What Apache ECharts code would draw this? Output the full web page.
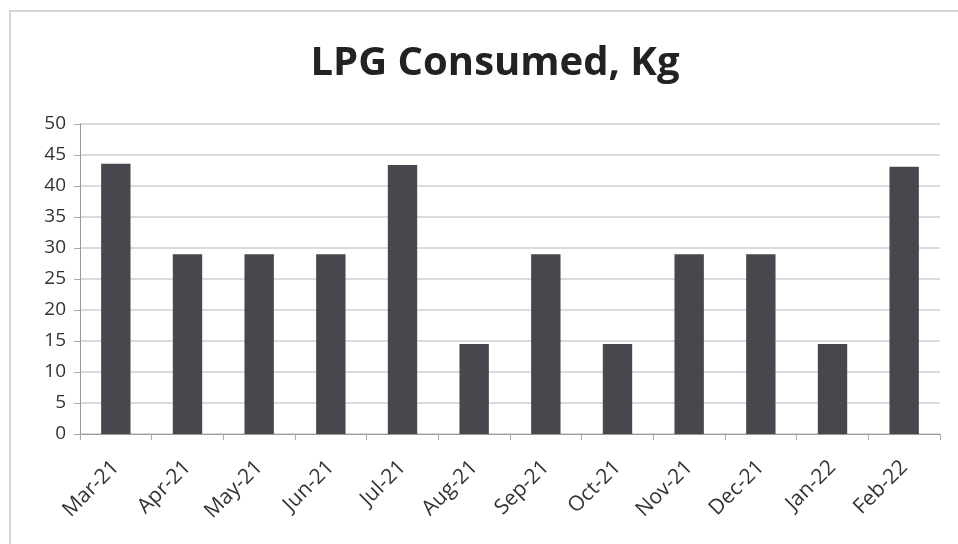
<!DOCTYPE html>
<html>
<head>
<meta charset="utf-8">
<script src="https://cdn.jsdelivr.net/npm/echarts@6/dist/echarts.min.js"></script>
<style>
  html, body { margin: 0; padding: 0; background: #fff; }
  #chart { width: 958px; height: 544px; }
</style>
</head>
<body>
<div id="chart"></div>
<script>
const months = ['Mar-21', 'Apr-21', 'May-21', 'Jun-21', 'Jul-21', 'Aug-21',
  'Sep-21', 'Oct-21', 'Nov-21', 'Dec-21', 'Jan-22', 'Feb-22'];
const lpgKg = [43.6, 29, 29, 29, 43.4, 14.5, 29, 14.5, 29, 29, 14.5, 43.1];

const chart = echarts.init(document.getElementById('chart'));
chart.setOption({
  animation: false,
  // faint frame of the scanned chart (left and top edges only)
  graphic: [{
    type: 'polyline',
    shape: { points: [[10, 544], [10, 11], [958, 11]] },
    style: { fill: 'none', stroke: '#d6d6d6', lineWidth: 2 },
    silent: true
  }],
  title: {
    text: 'LPG Consumed, Kg',
    left: 490,
    top: 39,
    textAlign: 'center',
    textStyle: {
      fontFamily: 'Open Sans',
      fontSize: 40,
      fontWeight: 'bold',
      color: '#222'
    }
  },
  grid: {
    left: 80,
    right: 18,
    top: 124,
    bottom: 110
  },
  xAxis: {
    type: 'category',
    data: months,
    axisLine: { lineStyle: { color: '#999' } },
    axisTick: { show: true, length: 6, lineStyle: { color: '#aaa' } },
    axisLabel: {
      rotate: 45,
      margin: 30,
      fontFamily: 'Open Sans',
      fontSize: 21,
      color: '#333'
    }
  },
  yAxis: {
    type: 'value',
    min: 0,
    max: 50,
    interval: 5,
    axisLine: { show: true, lineStyle: { color: '#999' } },
    axisTick: { show: true, length: 6, lineStyle: { color: '#aaa' } },
    axisLabel: {
      fontFamily: 'Open Sans',
      fontSize: 19,
      color: '#333',
      margin: 14
    },
    splitLine: { lineStyle: { color: '#cfcfd4', width: 1.5 } }
  },
  series: [{
    type: 'bar',
    data: lpgKg,
    barWidth: '41%',
    itemStyle: { color: '#47474d' }
  }]
});
</script>
</body>
</html>
